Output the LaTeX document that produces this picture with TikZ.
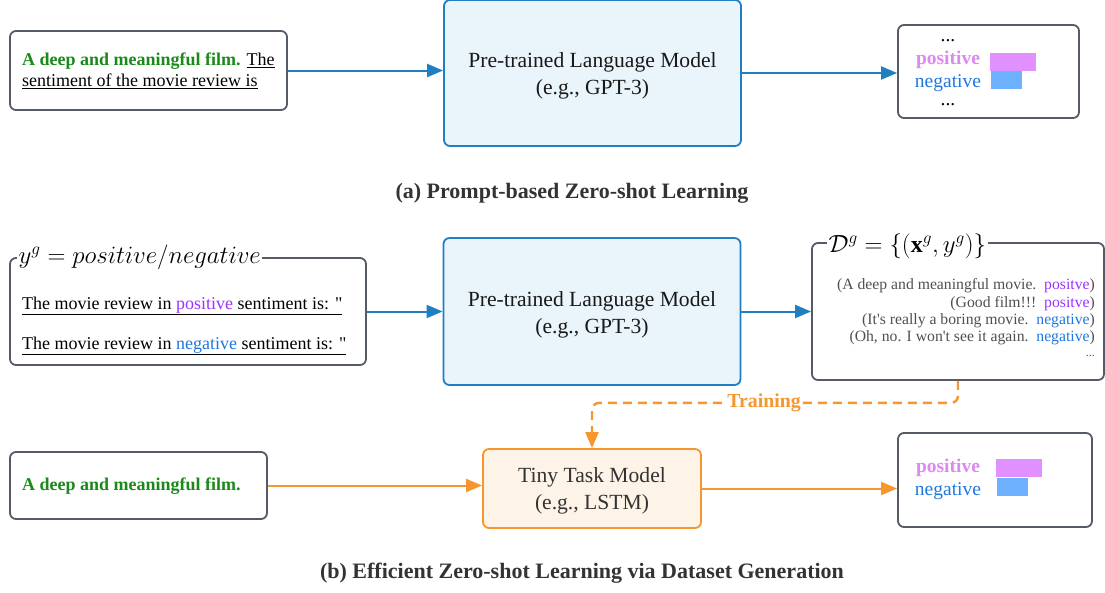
\documentclass[tikz,border=0pt]{standalone}
\usepackage{fontspec}
\setmainfont{Liberation Serif}
\usetikzlibrary{arrows.meta}
\definecolor{boxgray}{HTML}{555B66}
\definecolor{plmblue}{HTML}{1F7FC1}
\definecolor{plmfill}{HTML}{EAF4FB}
\definecolor{orng}{HTML}{F5962F}
\definecolor{orngfill}{HTML}{FDF3E6}
\definecolor{grn}{HTML}{1A8A1A}
\definecolor{pinkpos}{HTML}{DD88F5}
\definecolor{pinkbar}{HTML}{E091FF}
\definecolor{blueneg}{HTML}{1F78E0}
\definecolor{bluebar}{HTML}{6DB1FF}
\definecolor{purp}{HTML}{9933FF}
\definecolor{captc}{HTML}{333333}
\definecolor{dtext}{HTML}{505050}
\begin{document}
\begin{tikzpicture}[x=1pt,y=-1pt,
  gbox/.style={draw=boxgray, line width=1.8pt, rounded corners=6pt, fill=white, inner sep=0pt},
  plm/.style={draw=plmblue, line width=1.8pt, rounded corners=6pt, fill=plmfill, minimum width=297pt, minimum height=146pt},
  plmtxt/.style={align=center, inner sep=0pt, font=\fontsize{21.6}{27}\selectfont, text=black!90},
  ttm/.style={draw=orng, line width=1.8pt, rounded corners=6pt, fill=orngfill, minimum width=218pt, minimum height=79pt},
  ttmtxt/.style={align=center, inner sep=0pt, font=\fontsize{21.6}{27}\selectfont, text=captc},
  barrow/.style={draw=plmblue, line width=2pt, -{Triangle[length=16pt,width=13pt]}},
  oarrow/.style={draw=orng, line width=2pt, -{Triangle[length=16pt,width=13pt]}},
  train/.style={draw=orng, line width=2.4pt, dash pattern=on 9pt off 6pt, rounded corners=7pt, -{Triangle[length=16pt,width=13pt]}},
  capt/.style={font=\fontsize{22}{25}\selectfont\bfseries, text=captc},
  txt/.style={inner sep=0pt, anchor=west, font=\fontsize{18}{21}\selectfont},
  outtxt/.style={inner sep=0pt, font=\fontsize{19.5}{21}\selectfont},
  dline/.style={inner sep=0pt, anchor=east, text=dtext, font=\fontsize{15.7}{18}\selectfont},
  ttl/.style={fill=white, inner sep=1.5pt, anchor=west, font=\fontsize{24}{26}\selectfont}
]
\useasboundingbox (0,0) rectangle (1105,592);

% ---------- (a) ----------
\node[gbox, minimum width=277pt, minimum height=79pt] (A1) at (148.5,70.5) {};
\node[txt] (A1t1) at (22,61) {\textcolor{grn}{\bfseries A deep and meaningful film.} \underline{The}};
\node[txt] (A1t2) at (22,81) {\underline{sentiment of the movie review is}};

\node[plm] (P1) at (592.5,73) {};
\node[plmtxt] (P1t) at (592.5,76) {Pre-trained Language Model\\(e.g., GPT-3)};

\node[gbox, minimum width=181pt, minimum height=93pt] (O1) at (988.5,71.5) {};
\node[outtxt] (O1d1) at (948,41) {...};
\node[outtxt, text=pinkpos, font=\fontsize{19.5}{21}\selectfont\bfseries] (O1p) at (948,60) {positive};
\node[outtxt, text=blueneg] (O1n) at (948,83) {negative};
\node[outtxt] (O1d2) at (948,105) {...};
\fill[pinkbar] (990,53) rectangle (1036,71);
\fill[bluebar] (991,71) rectangle (1022,89);

\draw[barrow] (A1.east) -- (A1.east -| P1.west);
\draw[barrow] (P1.east) -- (P1.east -| O1.west);

\node[capt] (capA) at (572,193) {(a) Prompt-based Zero-shot Learning};

% ---------- (b) ----------
\node[gbox, minimum width=356pt, minimum height=107pt] (A2) at (188,311.5) {};
\node[ttl] (A2t) at (17,257) {$y^g = positive/negative$};
\node[txt] (A2l1) at (22,306) {\underline{The movie review in \textcolor{purp}{positive} sentiment is: \textquotedbl}};
\node[txt] (A2l2) at (22,346) {\underline{The movie review in \textcolor{blueneg}{negative} sentiment is: \textquotedbl}};

\node[plm, minimum height=147pt] (P2) at (592,311.5) {};
\node[plmtxt] (P2t) at (592,314.5) {Pre-trained Language Model\\(e.g., GPT-3)};

\node[gbox, minimum width=292pt, minimum height=137pt] (D) at (958,311.5) {};
\node[ttl] (Dt) at (827,246) {$\mathcal{D}^g = \{(\mathbf{x}^g, y^g)\}$};
\node[dline] (d1) at (1095,286) {(A deep and meaningful movie.~~\textcolor{purp}{positve})};
\node[dline] (d2) at (1095,304) {(Good film!!!~~\textcolor{purp}{positve})};
\node[dline] (d3) at (1095,321) {(It\textquotesingle s really a boring movie.~~\textcolor{blueneg}{negative})};
\node[dline] (d4) at (1095,338) {(Oh, no. I won\textquotesingle t see it again.~~\textcolor{blueneg}{negative})};
\node[dline, font=\fontsize{12}{14}\selectfont] (d5) at (1095,356) {...};

\draw[barrow] (A2.east) -- (A2.east -| P2.west);
\draw[barrow] (P2.east) -- (P2.east -| D.west);

\node[gbox, minimum width=257pt, minimum height=67pt] (A3) at (138.5,485.5) {};
\node[txt] (A3t) at (22,486) {\textcolor{grn}{\bfseries A deep and meaningful film.}};

\node[ttm] (T) at (592,488.5) {};
\node[ttmtxt] (Tt) at (592,491) {Tiny Task Model\\(e.g., LSTM)};

\node[gbox, minimum width=194pt, minimum height=94pt] (O2) at (995,480) {};
\node[outtxt, text=pinkpos, font=\fontsize{19.5}{21}\selectfont\bfseries] (O2p) at (948,468) {positive};
\node[outtxt, text=blueneg] (O2n) at (948,491) {negative};
\fill[pinkbar] (996,459) rectangle (1042,477);
\fill[bluebar] (997,478) rectangle (1028,496);

\draw[oarrow] (A3.east) -- (A3.east -| T.west);
\draw[oarrow] (T.east) -- (T.east -| O2.west);

\draw[train] (D.south) -- ++(0,22) coordinate (tc) -- (tc -| T.north)
  node[pos=0.53, fill=white, inner sep=1pt, text=orng, font=\fontsize{19.8}{21}\selectfont\bfseries] (trl) {Training}
  -- (T.north);

\node[capt] (capB) at (582,573) {(b) Efficient Zero-shot Learning via Dataset Generation};
\end{tikzpicture}
\end{document}
